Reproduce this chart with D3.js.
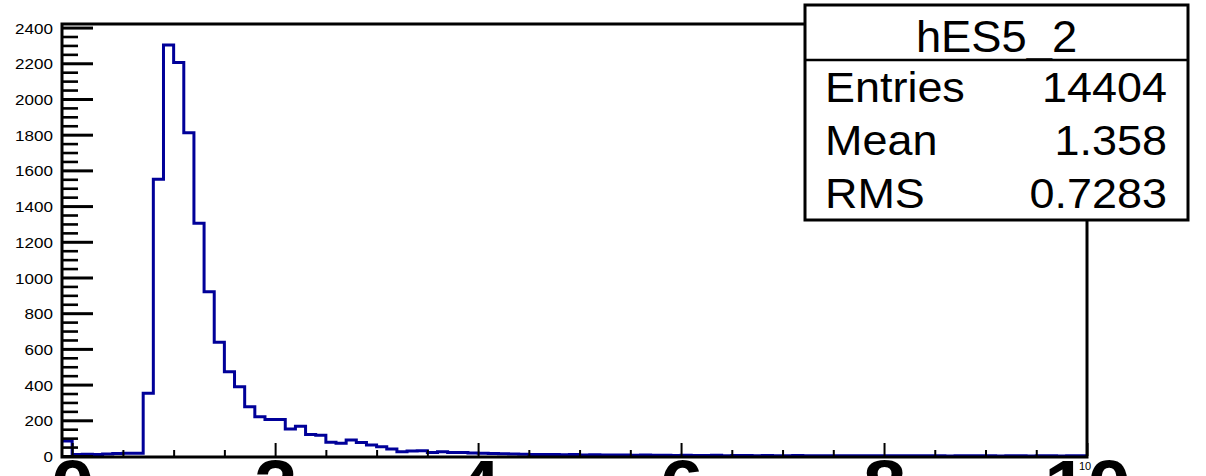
<!DOCTYPE html>
<html>
<head>
<meta charset="utf-8">
<script src="https://cdn.jsdelivr.net/npm/d3@7"></script>
<style>
  html, body { margin: 0; padding: 0; background: #fff; overflow: hidden; }
  svg { display: block; }
  text { font-family: "Liberation Sans", Arial, Helvetica, sans-serif; fill: #000; }
</style>
</head>
<body>
<svg id="chart" width="1206" height="476"></svg>
<script>
// ---------------- data ----------------
const histName = "hES5_2";
const binLowFirst = -0.1;
const binWidth = 0.1;
// counts per bin, bins from -0.1 to 10.0 (101 bins)
const counts = [
  84,                                             // -0.1 - 0.0
  9, 10, 9, 11, 14, 15, 16, 351, 1550, 2302,      // 0.0 - 1.0
  2205, 1811, 1304, 920, 637, 472, 388, 276, 220, 205, // 1.0 - 2.0
  205, 151, 166, 121, 116, 77, 71, 90, 75, 62,    // 2.0 - 3.0
  52, 39, 24, 28, 30, 19, 24, 19, 19, 17,         // 3.0 - 4.0
  15, 14, 12, 11, 10, 9, 9, 8, 7, 8,              // 4.0 - 5.0
  6, 7, 5, 6, 5, 4, 5, 4, 4, 3,                   // 5.0 - 6.0
  4, 3, 3, 4, 2, 3, 3, 2, 3, 2,                   // 6.0 - 7.0
  2, 3, 2, 2, 1, 2, 2, 1, 2, 1,                   // 7.0 - 8.0
  2, 1, 1, 2, 1, 1, 0, 1, 1, 1,                   // 8.0 - 9.0
  1, 0, 1, 1, 0, 1, 1, 0, 1, 1                    // 9.0 - 10.0
];
const xMajorTicks = [0, 2, 4, 6, 8, 10];
const xTickLabels = ["0", "2", "4", "6", "8", "10"];
const yMajorTicks = [0, 200, 400, 600, 800, 1000, 1200, 1400, 1600, 1800, 2000, 2200, 2400];
const statLabels = ["Entries", "Mean", "RMS"];
const statValues = ["14404", "1.358", "0.7283"];

// ---------------- layout ----------------
const frame = { left: 62, right: 1087, top: 24, bottom: 456 };
const svg = d3.select("#chart");

const x = d3.scaleLinear().domain([-0.1, 10]).range([frame.left, frame.right]);
const y = d3.scaleLinear().domain([0, 2420]).range([frame.bottom, frame.top]);

// ---------------- histogram ----------------
const pts = counts.map((c, i) => [binLowFirst + i * binWidth, c]);
pts.push([binLowFirst + counts.length * binWidth, counts[counts.length - 1]]);
const line = d3.line().x(d => x(d[0])).y(d => y(d[1])).curve(d3.curveStepAfter);
svg.append("path")
  .attr("d", line(pts))
  .attr("fill", "none")
  .attr("stroke", "#000099")
  .attr("stroke-width", 3)
  .attr("stroke-linejoin", "miter");

// ---------------- y axis ----------------
const yMinor = d3.range(0, 2401, 50).filter(v => v % 200 !== 0);
const yMinorAxis = d3.axisLeft(y).tickValues(yMinor).tickSize(-16).tickFormat("");
const gyMinor = svg.append("g").attr("transform", `translate(${frame.left},0)`).call(yMinorAxis);
gyMinor.select(".domain").remove();
gyMinor.selectAll("line").attr("stroke", "#000").attr("stroke-width", 2.6);

const yAxis = d3.axisLeft(y).tickValues(yMajorTicks).tickSize(-31).tickPadding(8).tickFormat(d3.format("d"));
const gy = svg.append("g").attr("transform", `translate(${frame.left},0)`).call(yAxis);
gy.select(".domain").remove();
gy.selectAll("line").attr("stroke", "#000").attr("stroke-width", 3);
gy.selectAll("text")
  .attr("font-size", "15.5px")
  .attr("font-family", "Liberation Sans, Arial, sans-serif")
  .attr("fill", "#000")
  .attr("x", 0).attr("dy", "0.36em")
  .attr("transform", "translate(-9,0) scale(1.1,1)");

// ---------------- x axis ----------------
const xMinor = d3.range(0, 10.01, 0.5).filter(v => Math.abs(v % 2) > 1e-6);
const xMinorAxis = d3.axisBottom(x).tickValues(xMinor).tickSize(-6).tickFormat("");
const gxMinor = svg.append("g").attr("transform", `translate(0,${frame.bottom})`).call(xMinorAxis);
gxMinor.select(".domain").remove();
gxMinor.selectAll("line").attr("stroke", "#000").attr("stroke-width", 2);

const xAxis = d3.axisBottom(x).tickValues(xMajorTicks).tickSize(-13).tickFormat((d, i) => xTickLabels[i]);
const gx = svg.append("g").attr("transform", `translate(0,${frame.bottom})`).call(xAxis);
gx.select(".domain").remove();
gx.selectAll("line").attr("stroke", "#000").attr("stroke-width", 2);
gx.selectAll("text")
  .attr("font-size", "72px")
  .attr("font-weight", "bold")
  .attr("font-family", "Liberation Sans, Arial, sans-serif")
  .attr("fill", "#000")
  .attr("y", 0).attr("dy", 0)
  .attr("transform", "translate(0,55) scale(1.08,1)");

// small exponent-like label at the end of the x axis
svg.append("text")
  .attr("x", 1085).attr("y", 470)
  .attr("text-anchor", "middle")
  .attr("font-size", "11px")
  .text("10");

// ---------------- frame ----------------
svg.append("rect")
  .attr("x", frame.left).attr("y", frame.top)
  .attr("width", frame.right - frame.left)
  .attr("height", frame.bottom + 1 - frame.top)
  .attr("fill", "none").attr("stroke", "#000").attr("stroke-width", 3);

// ---------------- stats box ----------------
const box = { x: 805, y: 5, w: 383, h: 215, div: 60 };
const gs = svg.append("g");
gs.append("rect")
  .attr("x", box.x).attr("y", box.y).attr("width", box.w).attr("height", box.h)
  .attr("fill", "#fff").attr("stroke", "#000").attr("stroke-width", 3);
gs.append("line")
  .attr("x1", box.x).attr("x2", box.x + box.w)
  .attr("y1", box.div).attr("y2", box.div)
  .attr("stroke", "#000").attr("stroke-width", 2.5);
gs.append("text")
  .attr("transform", `translate(${box.x + box.w / 2},52) scale(1.03,1)`)
  .attr("text-anchor", "middle")
  .attr("font-size", "44px")
  .text(histName);
const rowBase = [102, 155, 208];
statLabels.forEach((lab, i) => {
  gs.append("text")
    .attr("transform", `translate(825,${rowBase[i]}) scale(1.07,1)`)
    .attr("font-size", "42px")
    .text(lab);
  gs.append("text")
    .attr("transform", `translate(1167,${rowBase[i]}) scale(1.07,1)`)
    .attr("text-anchor", "end")
    .attr("font-size", "42px")
    .text(statValues[i]);
});
</script>
</body>
</html>
